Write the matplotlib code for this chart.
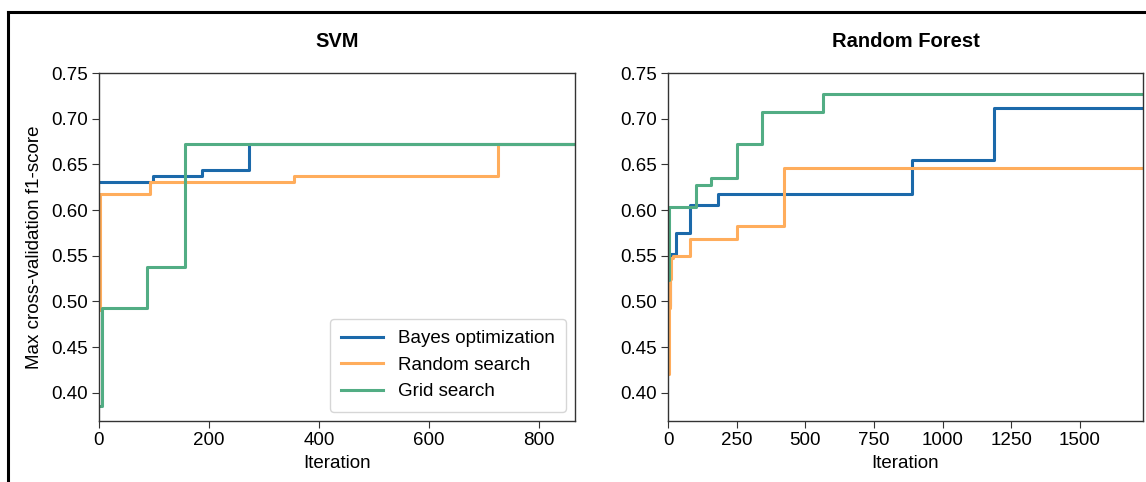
import numpy as np
import matplotlib.pyplot as plt
from matplotlib.lines import Line2D

plt.rcParams['font.family'] = ['Liberation Sans', 'DejaVu Sans']
plt.rcParams['font.size'] = 13.5

# Best score so far, as (iteration, value) change points
svm_bayes_it = [0, 98, 187, 273, 865]
svm_bayes_val = [0.631, 0.637, 0.644, 0.672, 0.672]
svm_random_it = [0, 2, 93, 354, 725, 865]
svm_random_val = [0.49, 0.618, 0.631, 0.637, 0.672, 0.672]
svm_grid_it = [0, 5, 87, 156, 865]
svm_grid_val = [0.385, 0.493, 0.538, 0.672, 0.672]

rf_bayes_it = [0, 7, 28, 80, 183, 890, 1188, 1730]
rf_bayes_val = [0.495, 0.552, 0.575, 0.605, 0.618, 0.655, 0.712, 0.712]
rf_random_it = [0, 2, 6, 11, 19, 80, 252, 424, 1730]
rf_random_val = [0.421, 0.493, 0.525, 0.548, 0.550, 0.568, 0.582, 0.646, 0.646]
rf_grid_it = [0, 5, 101, 157, 250, 344, 566, 1730]
rf_grid_val = [0.523, 0.603, 0.627, 0.635, 0.672, 0.707, 0.727, 0.727]

c_bayes = '#1b69aa'
c_random = '#ffad5c'
c_grid = '#52ad84'

fig = plt.figure(figsize=(11.46, 4.82), dpi=100)
W, H = 1146, 482
ax1 = fig.add_axes([99 / W, (H - 421) / H, 476 / W, 348 / H])
ax2 = fig.add_axes([668 / W, (H - 421) / H, 475 / W, 348 / H])

ax1.step(svm_bayes_it, svm_bayes_val, where='post', color=c_bayes, lw=2.2, label='Bayes optimization')
ax1.step(svm_random_it, svm_random_val, where='post', color=c_random, lw=2.2, label='Random search')
ax1.step(svm_grid_it, svm_grid_val, where='post', color=c_grid, lw=2.2, label='Grid search')

ax2.step(rf_bayes_it, rf_bayes_val, where='post', color=c_bayes, lw=2.2)
ax2.step(rf_random_it, rf_random_val, where='post', color=c_random, lw=2.2)
ax2.step(rf_grid_it, rf_grid_val, where='post', color=c_grid, lw=2.2)

for ax, title, xmax in [(ax1, 'SVM', 865), (ax2, 'Random Forest', 1730)]:
    ax.set_xlim(0, xmax)
    ax.set_ylim(0.369, 0.75)
    ax.set_yticks(np.arange(0.40, 0.76, 0.05))
    ax.set_title(title, fontweight='bold', fontsize=14.5, pad=19)
    ax.set_xlabel('Iteration', labelpad=4)
    for s in ax.spines.values():
        s.set_color('#333333')
        s.set_linewidth(1)
    ax.tick_params(color='#333333', length=5, pad=3)

ax1.set_xticks([0, 200, 400, 600, 800])
ax2.set_xticks([0, 250, 500, 750, 1000, 1250, 1500])
ax1.set_ylabel('Max cross-validation f1-score', labelpad=6)
ax1.legend(loc='lower right', fontsize=13.5, borderpad=0.6, handlelength=2.2)

# frame lines along the top and left edges
fig.add_artist(Line2D([8 / W, 1], [1 - 12 / H, 1 - 12 / H], color='black', lw=2.2, transform=fig.transFigure))
fig.add_artist(Line2D([8 / W, 8 / W], [0, 1 - 12 / H], color='black', lw=2.2, transform=fig.transFigure))

fig.savefig('out.png', dpi=100)
